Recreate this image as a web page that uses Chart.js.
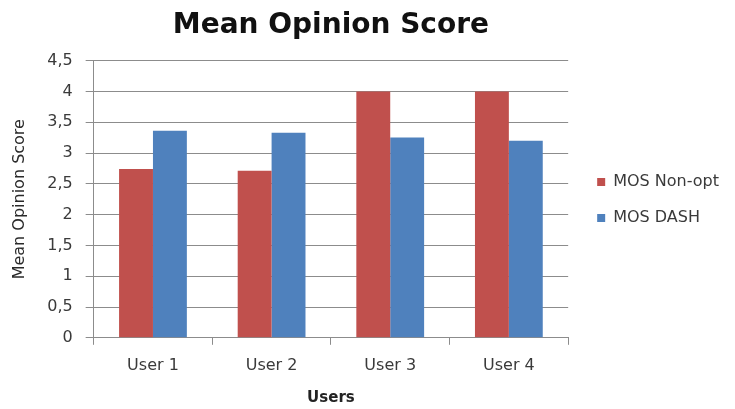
<!DOCTYPE html>
<html>
<head>
<meta charset="utf-8">
<title>Mean Opinion Score</title>
<script src="https://cdn.jsdelivr.net/npm/chart.js@4/dist/chart.umd.min.js"></script>
<style>
  html, body { margin: 0; padding: 0; background: #fff; }
  #wrap { width: 735px; height: 409px; }
</style>
</head>
<body>
<div id="wrap"><canvas id="grafikMos" width="735" height="409"></canvas></div>
<script>
// === DATA ===
const users = ['User 1', 'User 2', 'User 3', 'User 4'];
const mosNonOpt = [2.74, 2.71, 4.0, 4.0];
const mosDash = [3.36, 3.33, 3.25, 3.20];
const yTicks = [0, 0.5, 1, 1.5, 2, 2.5, 3, 3.5, 4, 4.5];

const FONT = '"DejaVu Sans", "Liberation Sans", sans-serif';
const fmtKoma = (v) => String(v).replace('.', ',');

// legend digeser ke kanan (dan sedikit ke atas), judul ditengahkan di atas area plot
const LEGEND_SHIFT = 9;
const LEGEND_NAIK = 4;
const aturPosisi = {
  id: 'aturPosisi',
  afterLayout(chart) {
    const lg = chart.legend;
    lg.left += LEGEND_SHIFT;
    lg.right += LEGEND_SHIFT;
    lg.top -= LEGEND_NAIK;
    lg.bottom -= LEGEND_NAIK;
    chart.titleBlock.left = chart.chartArea.left;
    chart.titleBlock.right = chart.chartArea.right;
  }
};

// === CHART ===
new Chart(document.getElementById('grafikMos').getContext('2d'), {
  type: 'bar',
  data: {
    labels: users,
    datasets: [
      { label: 'MOS Non-opt', data: mosNonOpt, backgroundColor: '#C0504D' },
      { label: 'MOS DASH', data: mosDash, backgroundColor: '#4F81BD' }
    ]
  },
  plugins: [aturPosisi],
  options: {
    responsive: false,
    animation: false,
    categoryPercentage: 2 / 3.5,
    barPercentage: 1,
    layout: { padding: { left: 4, right: 6 + LEGEND_SHIFT, top: 0, bottom: 1 } },
    plugins: {
      title: {
        display: true,
        text: 'Mean Opinion Score',
        color: '#111',
        font: { family: FONT, size: 28, weight: 'bold' },
        padding: { top: 9, bottom: 18 }
      },
      legend: {
        position: 'right',
        labels: {
          color: '#3a3a3a',
          font: { family: FONT, size: 16 },
          boxWidth: 8, boxHeight: 8,
          padding: 20
        }
      },
      tooltip: { enabled: false }
    },
    scales: {
      x: {
        grid: { drawOnChartArea: false, tickLength: 7, color: '#8c8c8c' },
        border: { color: '#8c8c8c' },
        ticks: { color: '#3a3a3a', font: { family: FONT, size: 16 }, padding: 11 },
        title: { display: true, text: 'Users', color: '#222', font: { family: FONT, size: 15, weight: 'bold' }, padding: { top: 3, bottom: 1 } }
      },
      y: {
        min: 0, max: 4.5,
        afterBuildTicks: (ax) => { ax.ticks = yTicks.map(v => ({ value: v })); },
        grid: { color: '#8c8c8c', tickLength: 8 },
        border: { color: '#8c8c8c' },
        ticks: { color: '#3a3a3a', font: { family: FONT, size: 16 }, padding: 13, callback: (v) => fmtKoma(v) },
        title: { display: true, text: 'Mean Opinion Score', color: '#2a2a2a', font: { family: FONT, size: 16 }, padding: { top: 6, bottom: 5 } }
      }
    }
  }
});
</script>
</body>
</html>
